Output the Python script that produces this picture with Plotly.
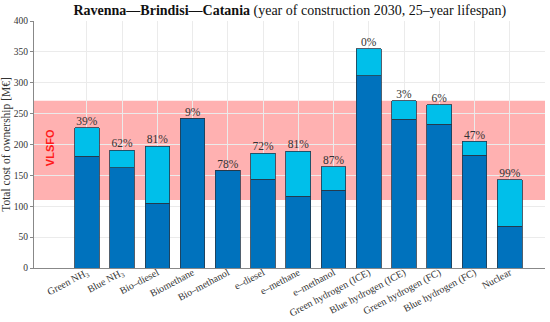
import plotly.graph_objects as go

categories = ["Green NH<sub>3</sub>", "Blue NH<sub>3</sub>", "Bio–diesel", "Biomethane", "Bio–methanol",
              "e–diesel", "e–methane", "e–methanol", "Green hydrogen (ICE)", "Blue hydrogen (ICE)",
              "Green hydrogen (FC)", "Blue hydrogen (FC)", "Nuclear"]
base_cost = [181, 162, 105, 242, 158, 144, 116, 126, 311, 241, 233, 183, 68]
total_cost = [227, 191, 197, 242, 158, 186, 189, 164, 355, 271, 264, 205, 143]
pct_labels = ["39%", "62%", "81%", "9%", "78%", "72%", "81%", "87%", "0%", "3%", "6%", "47%", "99%"]
vlsfo_low, vlsfo_high = 110, 271
y_ticks = [0, 50, 100, 150, 200, 250, 300, 350, 400]

x = list(range(len(categories)))
extra = [t - b for t, b in zip(total_cost, base_cost)]

serif = "Liberation Serif"
fig = go.Figure()
fig.add_shape(type="rect", xref="paper", x0=0, x1=1, yref="y", y0=vlsfo_low, y1=vlsfo_high,
              fillcolor="rgba(255,100,100,0.5)", line=dict(width=0), layer="below")
fig.add_trace(go.Bar(x=x, y=base_cost, marker=dict(color="#0072BD", line=dict(color="#26384a", width=0.8)),
                     width=0.7, showlegend=False, hoverinfo="y"))
fig.add_trace(go.Bar(x=x, y=extra, marker=dict(color="#00BFEA", line=dict(color="#26384a", width=0.8)),
                     width=0.7, showlegend=False, hoverinfo="y"))
fig.add_trace(go.Scatter(x=x, y=total_cost, mode="text", text=pct_labels, textposition="top center",
                         textfont=dict(family=serif, size=11.5, color="#333"), showlegend=False, hoverinfo="skip",
                         cliponaxis=False))
fig.add_annotation(x=-1.05, y=(vlsfo_low + vlsfo_high) / 2 + 5, xref="x", yref="y", text="<b>VLSFO</b>",
                   textangle=-90, showarrow=False, font=dict(family="Liberation Sans", size=11, color="#ff1a1a"))
fig.update_layout(
    barmode="stack", bargap=0.3,
    width=550, height=322,
    margin=dict(l=34, r=5, t=21, b=54),
    plot_bgcolor="white", paper_bgcolor="white",
    title=dict(text="<b>Ravenna—Brindisi—Catania</b> (year of construction 2030, 25–year lifespan)",
               x=0.527, xanchor="center", y=0.985, yanchor="top",
               font=dict(family=serif, size=14, color="#111")),
    font=dict(family=serif, color="#333"),
)
fig.update_xaxes(range=[-1.5, 13.0], tickmode="array", tickvals=x, ticktext=categories, tickangle=-28,
                 tickfont=dict(family=serif, size=10, color="#333"), showgrid=True, gridcolor="#ebebeb",
                 gridwidth=1, showline=True, linecolor="#888", linewidth=1, ticks="", zeroline=False,
                 automargin=False, ticklabelstandoff=-6)
fig.update_yaxes(range=[0, 400], tickvals=y_ticks, tickfont=dict(family=serif, size=9.5, color="#333"),
                 showgrid=True, gridcolor="#ebebeb", gridwidth=1, showline=True, linecolor="#888",
                 linewidth=1, ticks="outside", ticklen=3, tickcolor="#888", zeroline=False, automargin=False,
                 title=dict(text="Total cost of ownership [M€]", font=dict(family=serif, size=11.5, color="#333"),
                            standoff=5))
fig.write_html("out.html", config={"displayModeBar": False},
               post_script="document.body.style.margin='0';document.body.style.overflow='hidden';")
